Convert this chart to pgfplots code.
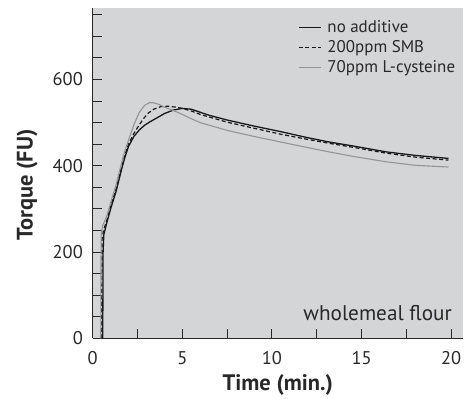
\documentclass[border=0pt]{standalone}
\usepackage{pgfplots}
\pgfplotsset{compat=1.18}
\usepackage{fontspec}
\setmainfont{PT Sans}
\definecolor{bg}{RGB}{212,213,215}
\definecolor{txt}{RGB}{40,40,40}
\definecolor{lgray}{RGB}{148,148,148}
\begin{document}
\begin{tikzpicture}
\begin{axis}[
  scale only axis,
  width=370.3bp, height=330bp,
  xmin=0, xmax=20.66, ymin=0, ymax=765,
  axis x line=bottom, axis y line=left,
  axis line style={-, txt, line width=0.9bp},
  axis background/.style={fill=bg},
  tick align=inside,
  major tick length=9bp, minor tick length=9bp,
  tick style={txt, line width=0.9bp},
  xtick={5,10,15,20}, minor xtick={2.5,7.5,12.5,17.5},
  extra x ticks={0}, extra x tick style={major tick length=0pt},
  ytick={200,400,600}, minor ytick={50,100,150,250,300,350,450,500,550,650,700,750},
  extra y ticks={0}, extra y tick style={major tick length=0pt},
  /pgf/number format/assume math mode=true,
  tick label style={font=\fontsize{18.5}{21}\selectfont, text=txt, inner sep=0pt},
  xticklabel style={anchor=base, yshift=-26bp},
  yticklabel style={anchor=east, xshift=-9.7bp},
  xlabel={Time (min.)}, ylabel={Torque (FU)},
  label style={font=\fontsize{22.5}{25}\selectfont\bfseries, text=txt, inner sep=0pt},
  x label style={at={(axis description cs:0.5,0)}, anchor=center, yshift=-46.7bp},
  y label style={at={([xshift=-65.7bp]axis description cs:0,0.4645)}, anchor=center},
  legend style={draw=none, fill=none, font=\fontsize{17}{20}\selectfont, text=txt,
    at={(rel axis cs:0.5544,1)}, yshift=-10.5bp, anchor=north west, inner sep=0pt,
    nodes={inner sep=0pt, text height=13bp, text depth=4bp}, row sep=3bp, column sep=6bp},
  legend cell align=left,
  legend image code/.code={\draw[#1] (0bp,0bp) -- (22bp,0bp);},
]
\addplot[no markers, color=black!90, line width=1.3bp] coordinates {
(0.56,0) (0.57,100) (0.58,200) (0.62,240) (0.8,270) (1.0,300) (1.3,340) (1.6,390)
(1.8,420) (2.0,445) (2.3,468) (2.6,483) (2.9,494) (3.2,502) (3.5,509) (4.0,521)
(4.5,529) (5.0,533) (5.5,531) (6.0,524) (6.5,517) (7.5,506) (9.0,492) (10.5,479)
(12.0,465) (13.2,455) (14.5,446) (16.4,432) (18.0,424) (19.85,417)};
\addlegendentry{no additive}
\addplot[no markers, color=black!90, line width=1.2bp, dash pattern=on 4bp off 2.5bp] coordinates {
(0.50,0) (0.51,120) (0.52,230) (0.6,250) (0.8,275) (1.0,305) (1.3,345) (1.6,395)
(1.8,425) (2.0,450) (2.3,475) (2.6,495) (2.85,510) (3.1,522) (3.4,531) (3.8,537)
(4.2,538) (4.6,536) (5.0,533) (5.5,527) (6.0,519) (7.5,501) (9.0,487) (10.5,473)
(12.0,461) (13.2,452) (14.5,443) (16.4,429) (18.0,420) (19.85,413)};
\addlegendentry{200ppm SMB}
\addplot[no markers, color=lgray, line width=1.1bp] coordinates {
(0.45,0) (0.46,120) (0.47,240) (0.55,260) (0.8,285) (1.0,315) (1.3,355) (1.6,405)
(1.8,435) (2.0,460) (2.3,495) (2.6,524) (2.9,540) (3.15,546) (3.4,546) (3.7,542)
(4.0,536) (4.5,528) (4.9,521) (5.5,509) (6.0,500) (7.5,482) (9.0,468) (10.5,455)
(12.0,442) (13.2,432) (14.5,422) (16.4,409) (18.0,401) (19.85,397)};
\addlegendentry{70ppm L-cysteine}
\node[anchor=base east, font=\fontsize{21.3}{24}\selectfont, text=txt, inner sep=0pt]
  at ([xshift=-11bp,yshift=17.6bp]rel axis cs:1,0) {wholemeal flour};
\coordinate (ll) at (rel axis cs:0,0);
\end{axis}
\pgfresetboundingbox
\path (ll) ++(-92.7bp,-60.7bp) rectangle ++(475bp,399bp);
\end{tikzpicture}
\end{document}
